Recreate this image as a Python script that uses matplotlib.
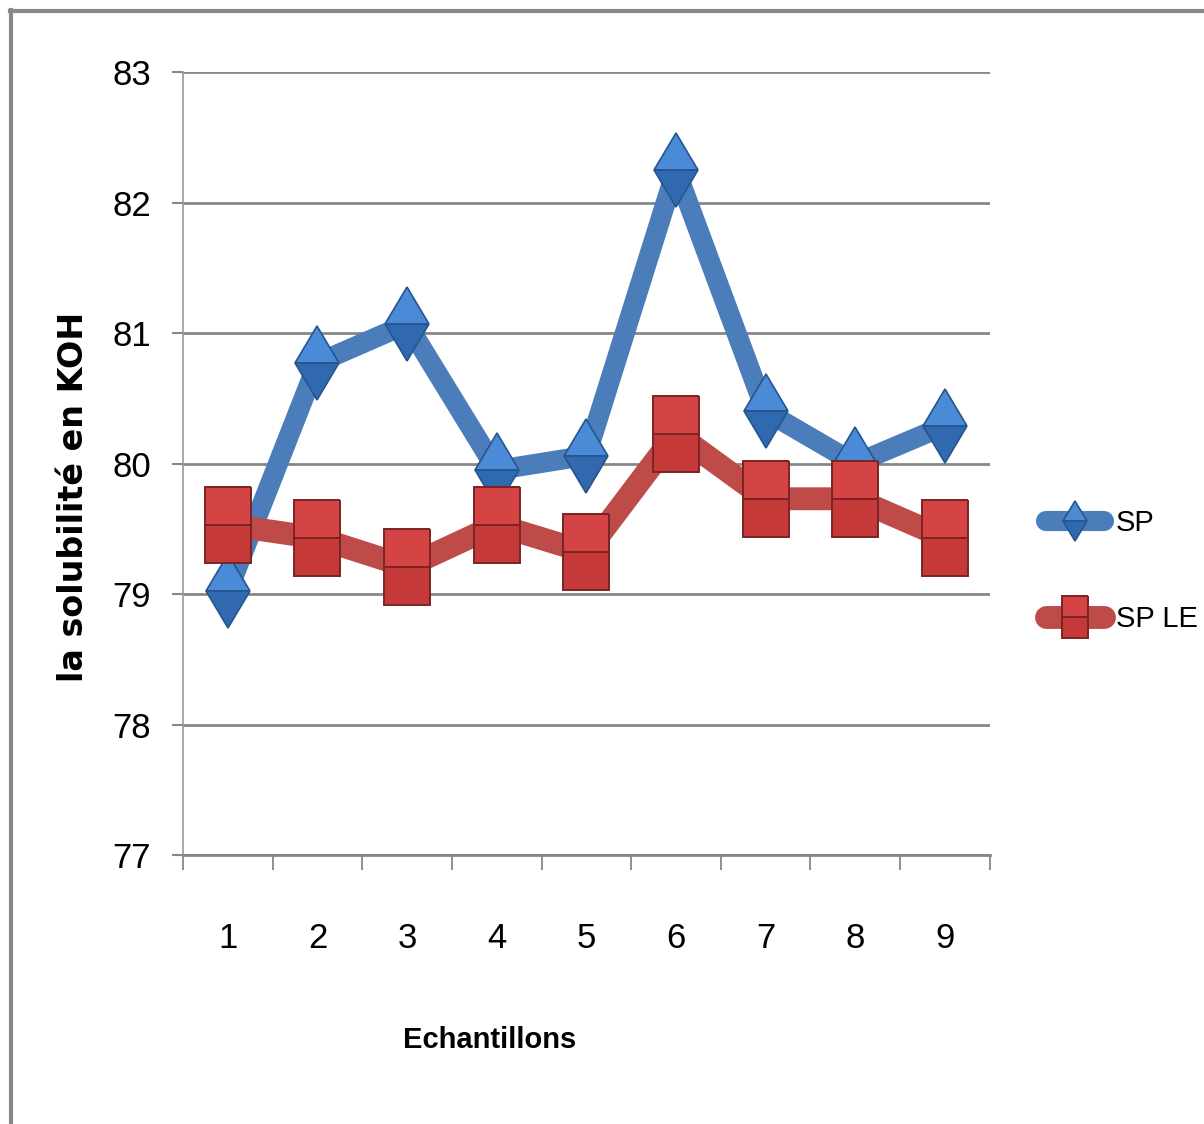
"""Solubilité en KOH des échantillons SP / SP LE."""

import matplotlib

matplotlib.use("Agg")

import matplotlib.pyplot as plt
from matplotlib.lines import Line2D
from matplotlib.markers import MarkerStyle
from matplotlib.transforms import Affine2D

SAMPLES = ["1", "2", "3", "4", "5", "6", "7", "8", "9"]
SP = [79.02, 80.77, 81.07, 79.95, 80.06, 82.25, 80.40, 80.00, 80.29]
SP_LE = [79.53, 79.43, 79.21, 79.53, 79.32, 80.23, 79.73, 79.73, 79.43]
Y_TICKS = [77, 78, 79, 80, 81, 82, 83]

NARROW = ["Liberation Sans", "DejaVu Sans"]
GRID = "#878787"


def _markers():
    diamond = MarkerStyle("d", fillstyle="top")
    rect = MarkerStyle("s", fillstyle="top", transform=Affine2D().scale(0.61, 1.0))
    return diamond, rect


def plot_solubilite() -> None:
    fig = plt.figure(figsize=(12.04, 11.24), dpi=100)
    ax = fig.add_axes([0.152, 0.2393, 0.670, 0.6966])
    x = list(range(1, len(SAMPLES) + 1))
    diamond, rect = _markers()

    ax.plot(x, SP, color="#4A7DBA", linewidth=14.5, solid_joinstyle="round",
            solid_capstyle="round", marker=diamond, markersize=37.5,
            markerfacecolor="#4A8AD6", markerfacecoloralt="#3069B0",
            markeredgecolor="#25558F", markeredgewidth=1.2, label="SP", zorder=3)
    ax.plot(x, SP_LE, color="#BE4B48", linewidth=16.5, solid_joinstyle="round",
            solid_capstyle="round", marker=rect, markersize=55,
            markerfacecolor="#D54444", markerfacecoloralt="#C63939",
            markeredgecolor="#7A2424", markeredgewidth=1.4, label="SP LE", zorder=4)

    ax.set_xlim(0.5, len(SAMPLES) + 0.5)
    ax.set_ylim(Y_TICKS[0], Y_TICKS[-1])
    ax.set_yticks(Y_TICKS)
    ax.set_yticklabels([str(v) for v in Y_TICKS], family=NARROW, fontsize=25)
    ax.tick_params(axis="y", length=8, width=1.5, color=GRID, pad=15)

    # tick marks between categories, labels centred on categories
    ax.set_xticks([i + 0.5 for i in range(len(SAMPLES) + 1)])
    ax.set_xticklabels([])
    ax.set_xticks(x, minor=True)
    ax.set_xticklabels(SAMPLES, minor=True, family=NARROW, fontsize=25)
    ax.tick_params(axis="x", which="major", length=11, width=1.3, color=GRID)
    ax.tick_params(axis="x", which="minor", length=0, pad=48)

    ax.grid(True, axis="y", color=GRID, linewidth=2.0)
    ax.set_axisbelow(True)
    for side in ("top", "right"):
        ax.spines[side].set_visible(False)
    ax.spines["left"].set_color("#9A9A9A")
    ax.spines["left"].set_linewidth(1.2)
    ax.spines["bottom"].set_color(GRID)
    ax.spines["bottom"].set_linewidth(2.0)

    fig.text(74 / 1204, 1 - 497 / 1124, "la solubilité en KOH", rotation=90,
             ha="center", va="center", fontsize=24, fontweight="bold",
             family="DejaVu Sans")
    fig.text(490 / 1204, 1 - 1040 / 1124, "Echantillons", ha="center",
             va="center", fontsize=21, fontweight="bold", family=NARROW)

    ax.legend(loc="center left", bbox_to_anchor=(1046 / 1204, 1 - 571 / 1124),
              bbox_transform=fig.transFigure, frameon=False,
              prop={"family": NARROW, "size": 21}, markerscale=0.55,
              handlelength=2.0, handletextpad=0.4, labelspacing=2.35,
              borderaxespad=0, borderpad=0)

    # cadre gris du graphique
    fig.add_artist(Line2D([10 / 1204, 1], [1 - 11 / 1124] * 2,
                          transform=fig.transFigure, color="#888888", linewidth=3))
    fig.add_artist(Line2D([11 / 1204] * 2, [0, 1 - 10 / 1124],
                          transform=fig.transFigure, color="#888888", linewidth=3))

    fig.savefig("out.png", dpi=100)
    plt.close(fig)


def main() -> None:
    plot_solubilite()


if __name__ == "__main__":
    main()
